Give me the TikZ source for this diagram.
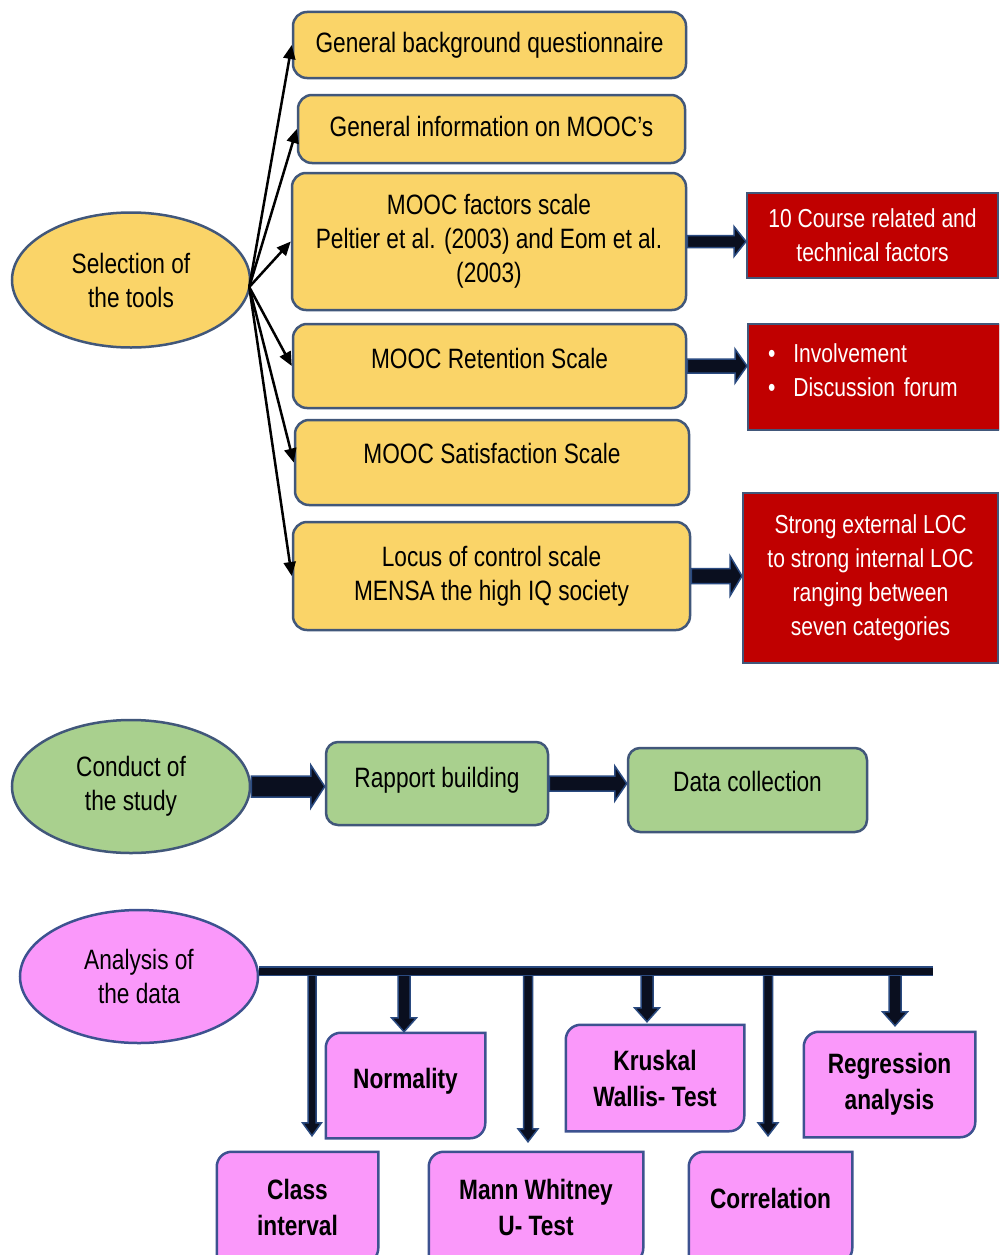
\documentclass[tikz,border=0pt]{standalone}
\usepackage{fontspec}
\setmainfont{Liberation Sans}[FakeStretch=0.81]
\usetikzlibrary{shapes.geometric,calc,arrows.meta}
\pgfdeclarelayer{background}
\pgfsetlayers{background,main}

\definecolor{tanfill}{HTML}{FAD468}
\definecolor{slateedge}{HTML}{41577A}
\definecolor{redfill}{HTML}{C00000}
\definecolor{greenfill}{HTML}{A9D08E}
\definecolor{pinkfill}{HTML}{FA98FA}
\definecolor{pinkedge}{HTML}{3D5290}
\definecolor{arrowfill}{HTML}{0A0F1F}
\definecolor{arrowedge}{HTML}{2A4A80}

% horizontal block arrow from one node to the next
\newcommand{\fatarrow}[5]{% source, target, half shaft, half head, head length
  \path (#1.east) coordinate (fa-s);
  \path (fa-s -| #2.west) coordinate (fa-t);
  \filldraw[blockarrow] ($(fa-s)+(0,-#3)$) -- ($(fa-t)+(-#5,-#3)$) -- ($(fa-t)+(-#5,-#4)$)
    -- (fa-t) -- ($(fa-t)+(-#5,#4)$) -- ($(fa-t)+(-#5,#3)$) -- ($(fa-s)+(0,#3)$) -- cycle;
}
% vertical block arrow hanging from the bar down to a node
\newcommand{\droparrow}[6]{% target, x offset, gap, half shaft, half head, head length
  \path (#1.north) ++(#2,-#3) coordinate (da-t);
  \path (da-t |- barL) coordinate (da-s);
  \filldraw[blockarrow] ($(da-s)+(-#4,0)$) -- ($(da-t)+(-#4,-#6)$) -- ($(da-t)+(-#5,-#6)$)
    -- (da-t) -- ($(da-t)+(#5,-#6)$) -- ($(da-t)+(#4,-#6)$) -- ($(da-s)+(#4,0)$) -- cycle;
}
% box with rounded top-left and bottom-right corners
\newcommand{\diagbox}[1]{%
  \path[pinkshape] (#1.south west) -- ($(#1.north west)+(0,15)$)
    .. controls ($(#1.north west)+(0,6.7)$) and ($(#1.north west)+(6.7,0)$) .. ($(#1.north west)+(15,0)$)
    -- (#1.north east) -- ($(#1.south east)+(0,-15)$)
    .. controls ($(#1.south east)+(0,-6.7)$) and ($(#1.south east)+(-6.7,0)$) .. ($(#1.south east)+(-15,0)$)
    -- cycle;%
}

\begin{document}
\begin{tikzpicture}[x=1pt,y=-1pt,
  base/.style={font=\fontsize{28}{34}\selectfont, align=center, inner sep=0pt, line width=2.5pt, text=black},
  toolbox/.style={base, draw=slateedge, fill=tanfill, rounded corners=14pt},
  toolhub/.style={base, ellipse, draw=slateedge, fill=tanfill},
  outcome/.style={base, font=\fontsize{26}{34}\selectfont, draw=slateedge, line width=2pt, fill=redfill, text=white},
  studybox/.style={base, draw=slateedge, fill=greenfill, rounded corners=12pt},
  studyhub/.style={base, ellipse, draw=slateedge, fill=greenfill},
  datahub/.style={base, ellipse, draw=pinkedge, fill=pinkfill},
  testbox/.style={base, font=\fontsize{28}{36}\selectfont\bfseries},
  pinkshape/.style={fill=pinkfill, draw=pinkedge, line width=2.5pt},
  lift/.style={text height=#1, text depth=10pt},
  thinarrow/.style={draw=black, line width=2.5pt, -{Triangle[length=14pt,width=12pt]}},
  blockarrow/.style={fill=arrowfill, draw=arrowedge, line width=1.5pt, line join=miter},
  busbar/.style={draw=arrowedge, line width=1.5pt, double=arrowfill, double distance=7pt}
]
\useasboundingbox (0,0) rectangle (999,1255);
\begin{pgfonlayer}{background}
  \fill[white] (0,0) rectangle (999,1255);
\end{pgfonlayer}
\clip (0,0) rectangle (999,1255);

% ---- selection of the tools ----
\node[toolhub, minimum width=238pt, minimum height=135pt] (sel) at (131,280) {Selection of\\the tools};
\node[toolbox, minimum width=393pt, minimum height=66pt] (b1) at (489.5,45) {General background questionnaire};
\node[toolbox, lift=24pt, minimum width=387pt, minimum height=68pt] (b2) at (491.5,129) {General information on MOOC’s};
\node[toolbox, minimum width=394pt, minimum height=137pt] (b3) at (489,241.5) {MOOC factors scale\\Peltier et al. (2003) and Eom et al.\\(2003)};
\node[toolbox, lift=14pt, minimum width=393pt, minimum height=84pt] (b4) at (489.5,366) {MOOC Retention Scale};
\node[toolbox, lift=12pt, minimum width=394pt, minimum height=85pt] (b5) at (492,462.5) {MOOC Satisfaction Scale};
\node[toolbox, minimum width=397pt, minimum height=108pt] (b6) at (491.5,576) {Locus of control scale\\MENSA the high IQ society};

\node[outcome, minimum width=251pt, minimum height=85pt] (r1) at (872.5,235.5) {10 Course related and\\technical factors};
\node[outcome, align=left, inner xsep=20pt, text width=212pt, text depth=48pt, minimum height=106pt] (r2) at (874,377)
  {\textbullet\hspace{18pt}Involvement\\\textbullet\hspace{18pt}Discussion forum};
\node[outcome, minimum width=255pt, minimum height=170pt] (r3) at (870.5,578)
  {Strong external LOC\\to strong internal LOC\\ranging between\\seven categories};

\coordinate (hub) at ($(sel.east)+(-2,7)$);
\foreach \b in {b1,b2,b3,b4,b5,b6}{
  \draw[thinarrow] (hub) -- (\b.west);
}

\fatarrow{b3}{r1}{6}{15}{12}
\fatarrow{b4}{r2}{7}{17}{12}
\fatarrow{b6}{r3}{7.5}{20}{12}

% ---- conduct of the study ----
\node[studyhub, minimum width=238pt, minimum height=133pt] (con) at (131,786.5) {Conduct of\\the study};
\node[studybox, lift=18pt, minimum width=222pt, minimum height=83pt] (rap) at (437,783.5) {Rapport building};
\node[studybox, lift=12pt, minimum width=239pt, minimum height=84pt] (dat) at (747.5,790) {Data collection};

\fatarrow{con}{rap}{10.5}{21.5}{14}
\fatarrow{rap}{dat}{7.5}{17.5}{12}

% ---- analysis of the data ----
\node[datahub, minimum width=238pt, minimum height=133pt] (ana) at (139,976.5) {Analysis of\\the data};
\node[testbox, minimum width=159pt, minimum height=109pt] (cls) at (297.5,1207.5) {Class\\interval};
\node[testbox, lift=16pt, minimum width=157pt, minimum height=103pt] (nrm) at (405.5,1085.5) {Normality};
\node[testbox, minimum width=212pt, minimum height=109pt] (man) at (536,1207.5) {Mann Whitney\\U- Test};
\node[testbox, minimum width=176pt, minimum height=104pt] (kru) at (655,1078) {Kruskal\\Wallis- Test};
\node[testbox, lift=12pt, minimum width=161pt, minimum height=109pt] (cor) at (770.5,1207.5) {Correlation};
\node[testbox, minimum width=169pt, minimum height=103pt] (reg) at (889.5,1084.5) {Regression\\analysis};

\begin{pgfonlayer}{background}
  \begin{scope}
    \clip (0,0) rectangle (999,1255);
    \diagbox{cls}
    \diagbox{nrm}
    \diagbox{man}
    \diagbox{kru}
    \diagbox{cor}
    \diagbox{reg}
  \end{scope}
\end{pgfonlayer}

\coordinate (barL) at ($(ana.east)+(0,-5.5)$);
\coordinate (barR) at (933,971);

\droparrow{cls}{14.5}{16}{4}{9.5}{13}
\droparrow{nrm}{-1.5}{1}{6}{12.5}{14}
\droparrow{man}{-8}{10}{4.5}{10}{13}
\droparrow{kru}{-8}{3}{6}{12.5}{14}
\droparrow{cor}{-2.5}{16}{4.5}{10}{13}
\droparrow{reg}{5.5}{6}{6}{12.5}{14}

\draw[busbar] (barL) -- (barR);
\end{tikzpicture}
\end{document}
